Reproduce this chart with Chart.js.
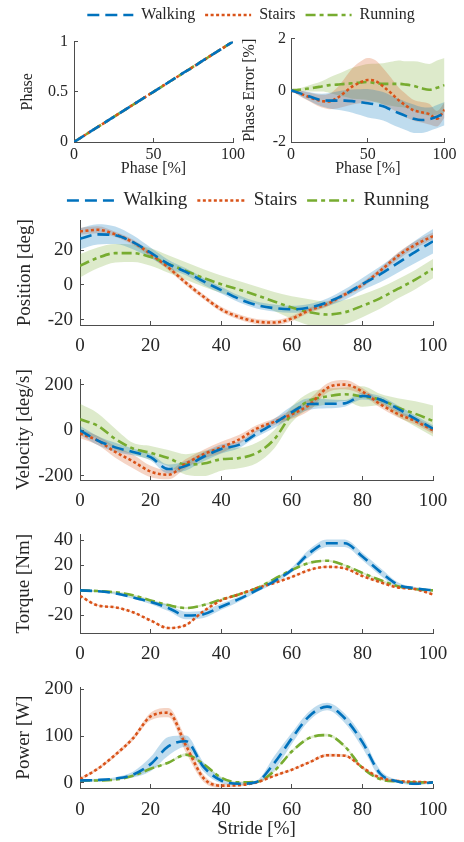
<!DOCTYPE html>
<html><head><meta charset="utf-8">
<script src="https://cdn.jsdelivr.net/npm/chart.js@4.4.0/dist/chart.umd.min.js"></script>
<style>
html,body{margin:0;padding:0;background:#fff;width:464px;height:842px;overflow:hidden;position:relative;}
canvas{position:absolute;}
</style></head><body>
<canvas id="leg1"></canvas>
<canvas id="leg2"></canvas>
<canvas id="cPhase"></canvas>
<canvas id="cErr"></canvas>
<canvas id="cPos"></canvas>
<canvas id="cVel"></canvas>
<canvas id="cTor"></canvas>
<canvas id="cPow"></canvas>
<script>
// ---------- data ----------
const seriesNames = ['Walking', 'Stairs', 'Running'];
const stride = [0,5,10,15,20,25,30,35,40,45,50,55,60,65,70,75,80,85,90,95,100];

const phaseWalk   = [0,0.05,0.1,0.15,0.2,0.25,0.3,0.35,0.4,0.45,0.5,0.55,0.6,0.65,0.7,0.745,0.8,0.85,0.9,0.95,1];
const phaseStairs = [0,0.05,0.1,0.15,0.2,0.25,0.3,0.35,0.4,0.45,0.5,0.55,0.6,0.65,0.7,0.75,0.8,0.85,0.9,0.95,1];
const phaseRun    = [0,0.05,0.1,0.15,0.2,0.25,0.3,0.35,0.4,0.45,0.5,0.55,0.6,0.65,0.7,0.75,0.8,0.85,0.9,0.95,1];

const errWalk     = [0,-0.1,-0.2,-0.3,-0.38,-0.4,-0.4,-0.4,-0.42,-0.46,-0.5,-0.55,-0.62,-0.75,-0.88,-1.0,-1.1,-1.15,-1.12,-1.02,-0.9];
const errWalkSd   = [0,0.08,0.15,0.2,0.25,0.3,0.35,0.4,0.45,0.5,0.55,0.55,0.55,0.55,0.55,0.55,0.55,0.5,0.45,0.45,0.45];
const errStairs   = [0,-0.1,-0.22,-0.33,-0.42,-0.43,-0.3,-0.08,0.15,0.3,0.4,0.36,0.15,-0.1,-0.38,-0.6,-0.78,-0.85,-0.92,-1.1,-0.75];
const errStairsSd = [0,0.1,0.15,0.2,0.25,0.3,0.4,0.55,0.7,0.8,0.85,0.8,0.7,0.6,0.5,0.45,0.4,0.4,0.4,0.3,0.3];
const errRun      = [0,0.02,0.06,0.1,0.15,0.2,0.22,0.25,0.27,0.3,0.32,0.28,0.25,0.25,0.25,0.22,0.17,0.08,0.02,0.1,0.2];
const errRunSd    = [0,0.05,0.1,0.15,0.2,0.3,0.4,0.5,0.6,0.65,0.7,0.75,0.8,0.85,0.9,0.9,0.95,1.0,1.0,1.05,1.05];

const posWalk     = [26.5,29,28.5,24.5,18.5,12,7.5,2,-3,-8,-11.5,-13.3,-14,-13,-10,-5.5,0.5,6,12.5,19,25];
const posWalkSd   = [6,5.8,5,4,3,2.5,2,2,2,2,2,2,2,2,2.2,3,3.5,4.5,5.5,6.5,7];
const posStairs   = [30.7,31.6,29,24.5,17.7,10,1.2,-6.8,-14,-18.4,-21,-21.6,-19.3,-14.5,-11,-5.5,0,8,16.5,23,28];
const posStairsSd = [2,2,1.5,1.5,1.5,1.5,1.5,1.5,1.5,1.5,1.5,1.5,1.5,1.5,1.5,1.5,1.5,1.5,2,2,2];
const posRun      = [11,15.5,18.2,18.2,16,12,8,4,0.4,-2.7,-5.9,-9.5,-13,-15.7,-17,-15.7,-12,-7.7,-2.3,3,9.3];
const posRunSd    = [6.7,6,5.3,5,5,5,5,5,5,5,5,5.5,6.5,7.5,7.5,7,6.5,6,5.5,5.5,5.5];

const velWalk     = [0,-45,-75,-95,-118,-170,-156,-116,-82,-64,-15,30,80,115,116,118,150,135,95,50,7];
const velWalkSd   = [20,20,20,15,15,20,20,20,20,15,15,20,25,25,20,15,15,15,15,15,15];
const velStairs   = [-14,-45,-95,-136,-181,-195,-146,-105,-75,-41,7,37,70,112,185,200,170,115,72,40,0];
const velStairsSd = [20,20,25,30,25,20,20,20,25,20,15,15,20,25,20,20,15,15,15,15,15];
const velRun      = [48,20,-38,-80,-99,-122,-150,-146,-127,-122,-100,-40,70,130,148,158,148,135,100,72,41];
const velRunSd    = [68,55,45,25,30,35,45,55,50,45,45,40,35,35,35,30,45,25,40,55,68];

const torWalk     = [0,-0.7,-2.4,-5.6,-9.3,-14,-20,-19,-13,-7,0,7.3,16.3,29.8,37.6,37.6,27,15,4.6,1.7,0];
const torWalkSd   = [0.5,0.5,0.8,1,1.5,2.5,3,3,2.5,2,1.5,1.5,2,3,3,3,3,3,2,1,0.5];
const torStairs   = [-4.4,-12,-13.5,-17.5,-24,-30,-27.6,-16.6,-8,-3.2,1.7,5.9,10.7,16.3,18.8,17.6,11.5,6.6,2.4,1,-3.2];
const torStairsSd = [0.5,0.5,0.5,0.5,0.5,0.5,0.5,0.5,0.5,0.5,0.5,0.5,0.5,0.5,0.5,0.5,0.5,0.5,0.5,0.5,0.5];
const torRun      = [0,-0.5,-1.5,-3.9,-8,-11.7,-14.1,-11.7,-7.3,-3.2,1.7,9,16.3,22,23.7,20,13.9,8.3,3.4,1,0];
const torRunSd    = [0.8,0.8,0.8,0.8,0.8,0.8,0.8,0.8,0.8,0.8,0.8,0.8,0.8,0.8,0.8,0.8,0.8,0.8,0.8,0.8,0.8];

const powWalk     = [5,6,9,17.5,40,78,89,34,5,-2,2,42,95,143,163,138,87,20,3,-2,1];
const powWalkSd   = [3,3,3,6,15,20,12,10,6,3,3,15,12,10,8,10,12,8,3,3,2];
const powStairs   = [8,30,60,95,142,150,80,10,-6,-5,1,15,28,44,59,58,33,11,4,2,1];
const powStairsSd = [3,3,4,5,8,10,15,8,4,3,2,2,2,2,3,3,3,2,2,2,2];
const powRun      = [5,5,7,15,30,43,60,40,11,1,2,25,67,96,102,78,32,8,3,1,1];
const powRunSd    = [2,2,2,2,2,2,3,3,2,2,2,2,3,3,3,3,3,2,2,2,2];

const xTicksTop = [0,50,100];
const xTicksBottom = [0,20,40,60,80,100];
const yTicksPhase = [0,0.5,1];
const yTicksErr = [-2,0,2];
const yTicksPos = [-20,0,20];
const yTicksVel = [-200,0,200];
const yTicksTor = [-20,0,20,40];
const yTicksPow = [0,100,200];

// ---------- styles ----------
const COLORS = ['#0072BD', '#D95319', '#77AC30'];
const BANDS = ['rgba(0,114,189,0.25)', 'rgba(217,83,25,0.25)', 'rgba(119,172,48,0.25)'];
const DASHES = [[12,6], [3,2.5], [10,4,4,4]];
const LW = 2.6;
const TXT = '#262626';
const AX = '#4d4d4d';
const FONT = "'Liberation Serif', 'Times New Roman', serif";

Chart.defaults.font.family = FONT;
Chart.defaults.color = TXT;
Chart.defaults.animation = false;

function place(id, left, top, w, h) {
  const c = document.getElementById(id);
  c.style.left = left + 'px'; c.style.top = top + 'px';
  c.style.width = w + 'px'; c.style.height = h + 'px';
  c.width = w; c.height = h;
  return c;
}

function pts(arr) { return stride.map((x, i) => ({x: x, y: arr[i]})); }

function lineSet(i, arr) {
  return {label: seriesNames[i], data: pts(arr), borderColor: COLORS[i], borderDash: DASHES[i],
    borderWidth: LW, pointRadius: 0, fill: false, order: 0, cubicInterpolationMode: 'monotone'};
}
function bandSets(i, mean, sd) {
  const up = stride.map((x, k) => ({x: x, y: mean[k] + sd[k]}));
  const lo = stride.map((x, k) => ({x: x, y: mean[k] - sd[k]}));
  return [
    {label: 'band', data: up, borderColor: 'rgba(0,0,0,0)', borderWidth: 0, pointRadius: 0, fill: false, order: 2, cubicInterpolationMode: 'monotone'},
    {label: 'band', data: lo, borderColor: 'rgba(0,0,0,0)', borderWidth: 0, pointRadius: 0, fill: '-1', backgroundColor: BANDS[i], order: 2, cubicInterpolationMode: 'monotone'}
  ];
}

function legendChart(id, left, top, w, h, size, sampleW) {
  const c = place(id, left, top, w, h);
  new Chart(c, {
    type: 'line',
    data: {datasets: seriesNames.map((n, i) => ({label: n, data: [], borderColor: COLORS[i], borderDash: DASHES[i], borderWidth: LW}))},
    options: {
      responsive: false, animation: false, events: [],
      layout: {padding: 0},
      scales: {x: {display: false}, y: {display: false}},
      plugins: {
        tooltip: {enabled: false},
        legend: {display: true, position: 'top', align: 'center', maxHeight: 60,
          labels: {usePointStyle: true, pointStyle: 'line', pointStyleWidth: sampleW, boxHeight: size,
            padding: 10, font: {size: size, family: FONT}, color: TXT,
            generateLabels: ch => ch.data.datasets.map((d, i) => ({
              text: d.label, strokeStyle: d.borderColor, fillStyle: d.borderColor, lineWidth: d.borderWidth,
              lineDash: d.borderDash, pointStyle: 'line', hidden: false, datasetIndex: i, fontColor: TXT}))
          }}
      }
    }
  });
}

function panel(p) {
  const c = place(p.id, p.cl, p.ct, p.cw, p.ch);
  const yW = p.L - p.cl;
  const xH = p.ct + p.ch - p.B;
  const lh = p.size * 1.2;
  new Chart(c, {
    type: 'line',
    data: {datasets: p.datasets},
    options: {
      responsive: false, animation: false, events: [],
      layout: {padding: {left: 0, top: p.T - p.ct, right: p.cl + p.cw - p.R, bottom: 0}},
      plugins: {legend: {display: false}, tooltip: {enabled: false}},
      scales: {
        x: {
          type: 'linear', min: 0, max: 100,
          afterBuildTicks: s => { s.ticks = p.xTicks.map(v => ({value: v})); },
          afterFit: s => { s.height = xH; },
          border: {display: true, color: AX, width: 1},
          grid: {display: true, drawOnChartArea: false, drawTicks: true, tickLength: -4, color: AX},
          ticks: {padding: p.xPad, font: {size: p.size}, color: TXT, maxRotation: 0, autoSkip: false, callback: v => String(v)},
          title: {display: !!p.xTitle, text: p.xTitle || '', font: {size: p.size}, color: TXT,
            padding: {top: 0, bottom: p.xTitle ? (p.ct + p.ch - p.xTitleY - lh / 2) : 0}}
        },
        y: {
          type: 'linear', min: p.ymin, max: p.ymax,
          afterBuildTicks: s => { s.ticks = p.yTicks.map(v => ({value: v})); },
          afterFit: s => { s.width = yW; },
          border: {display: true, color: AX, width: 1},
          grid: {display: true, drawOnChartArea: false, drawTicks: true, tickLength: -4, color: AX},
          ticks: {padding: p.yPad, font: {size: p.size}, color: TXT, autoSkip: false, callback: v => String(v)},
          title: {display: true, text: p.yTitle, font: {size: p.size}, color: TXT,
            padding: {top: Math.max(0, p.yTitleX - p.cl - lh / 2), bottom: 0}}
        }
      }
    }
  });
}

function allSets(m, s) {
  return [].concat(bandSets(0, m[0], s[0]), bandSets(1, m[1], s[1]), bandSets(2, m[2], s[2]),
    [lineSet(0, m[0]), lineSet(1, m[1]), lineSet(2, m[2])]);
}

// ---------- legends ----------
legendChart('leg1', 38, -3, 426, 90, 16, 46);
legendChart('leg2', 32, 181, 432, 90, 19, 47);

// ---------- top panels ----------
panel({id: 'cPhase', cl: 0, ct: 22, cw: 262, ch: 158, L: 74, R: 233, T: 39, B: 142,
  size: 16, xPad: 7.4, yPad: 10, xTitle: 'Phase [%]', xTitleY: 169, yTitle: 'Phase', yTitleX: 28,
  ymin: 0, ymax: 1, xTicks: xTicksTop, yTicks: yTicksPhase,
  datasets: [lineSet(0, phaseWalk), lineSet(1, phaseStairs), lineSet(2, phaseRun)]});

panel({id: 'cErr', cl: 240, ct: 20, cw: 224, ch: 160, L: 291, R: 451, T: 37, B: 142,
  size: 16, xPad: 7.4, yPad: 9, xTitle: 'Phase [%]', xTitleY: 169, yTitle: 'Phase Error [%]', yTitleX: 249,
  ymin: -2, ymax: 2, xTicks: xTicksTop, yTicks: yTicksErr,
  datasets: allSets([errWalk, errStairs, errRun], [errWalkSd, errStairsSd, errRunSd])});

// ---------- bottom panels ----------
panel({id: 'cPos', cl: 0, ct: 198, cw: 464, ch: 159, L: 80, R: 433, T: 213, B: 325,
  size: 19, xPad: 14, yPad: 11, yTitle: 'Position [deg]', yTitleX: 25,
  ymin: -23, ymax: 37, xTicks: xTicksBottom, yTicks: yTicksPos,
  datasets: allSets([posWalk, posStairs, posRun], [posWalkSd, posStairsSd, posRunSd])});

panel({id: 'cVel', cl: 0, ct: 357, cw: 464, ch: 155, L: 80, R: 433, T: 372, B: 480,
  size: 19, xPad: 14, yPad: 11, yTitle: 'Velocity [deg/s]', yTitleX: 24,
  ymin: -218, ymax: 223, xTicks: xTicksBottom, yTicks: yTicksVel,
  datasets: allSets([velWalk, velStairs, velRun], [velWalkSd, velStairsSd, velRunSd])});

panel({id: 'cTor', cl: 0, ct: 512, cw: 464, ch: 153, L: 80, R: 433, T: 527, B: 633,
  size: 19, xPad: 14, yPad: 11, yTitle: 'Torque [Nm]', yTitleX: 24,
  ymin: -34, ymax: 44.7, xTicks: xTicksBottom, yTicks: yTicksTor,
  datasets: allSets([torWalk, torStairs, torRun], [torWalkSd, torStairsSd, torRunSd])});

panel({id: 'cPow', cl: 0, ct: 665, cw: 464, ch: 177, L: 80, R: 433, T: 678, B: 788,
  size: 19, xPad: 15, yPad: 11, xTitle: 'Stride [%]', xTitleY: 829, yTitle: 'Power [W]', yTitleX: 24,
  ymin: -11, ymax: 204, xTicks: xTicksBottom, yTicks: yTicksPow,
  datasets: allSets([powWalk, powStairs, powRun], [powWalkSd, powStairsSd, powRunSd])});
</script>
</body></html>
